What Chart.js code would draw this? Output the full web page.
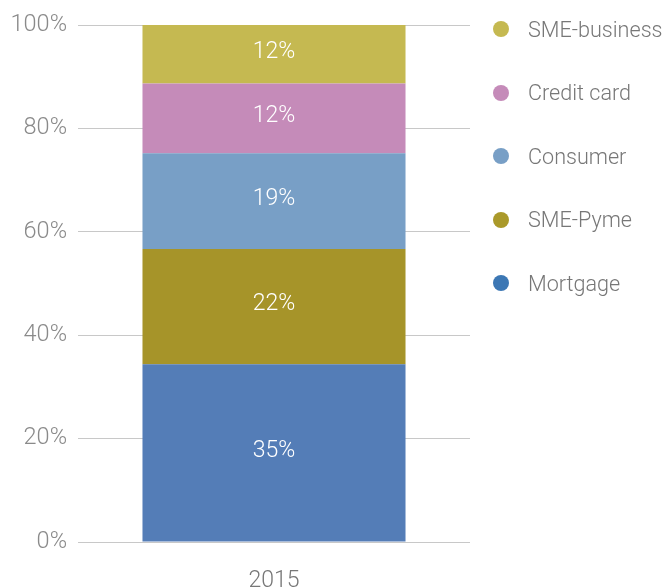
<!DOCTYPE html>
<html>
<head>
<meta charset="utf-8">
<script src="https://cdn.jsdelivr.net/npm/chart.js@4"></script>
<style>
  body { margin: 0; background: #fff; }
  #wrap { position: relative; width: 664px; height: 587px; }
  #legend { position: absolute; left: 493px; top: 0; font-family: Roboto, "Open Sans", sans-serif; font-weight: 300; font-size: 21.6px; color: #777; }
  .item { position: absolute; left: 0; height: 20px; display: flex; align-items: center; white-space: nowrap; }
  .dot { width: 16px; height: 16px; border-radius: 50%; margin-right: 19px; }
</style>
</head>
<body>
<div id="wrap">
  <canvas id="chart"></canvas>
  <div id="legend"></div>
</div>
<script>
// Loan portfolio mix, 2015 (bottom to top of the stack)
const years = ["2015"];
const seriesNames = ["Mortgage", "SME-Pyme", "Consumer", "Credit card", "SME-business"];
const mortgage = [34.4];
const smePyme = [22.3];
const consumer = [18.5];
const creditCard = [13.5];
const smeBusiness = [11.3];
const shareLabels = [["35%"], ["22%"], ["19%"], ["12%"], ["12%"]];
const barColors = ["#547DB7", "#A69429", "#789FC6", "#C58BB9", "#C5B951"];
const dotColors = ["#3C77B4", "#AA992A", "#789FC6", "#C58BB9", "#C5B951"];
const yTicks = [0, 20, 40, 60, 80, 100];

const seriesValues = [mortgage, smePyme, consumer, creditCard, smeBusiness];
const font = "Roboto, 'Open Sans', sans-serif";

// white % labels in the middle of each segment
const segmentLabels = {
    id: "segmentLabels",
    afterDatasetsDraw(chart) {
        const ctx = chart.ctx;
        ctx.save();
        ctx.fillStyle = "#ffffff";
        ctx.font = "300 23px " + font;
        ctx.textAlign = "center";
        ctx.textBaseline = "middle";
        chart.data.datasets.forEach((ds, i) => {
            chart.getDatasetMeta(i).data.forEach((bar, j) => {
                const p = bar.getCenterPoint();
                ctx.fillText(shareLabels[i][j], p.x, p.y - 2);
            });
        });
        ctx.restore();
    }
};

new Chart(document.getElementById("chart"), {
    type: "bar",
    data: {
        labels: years,
        datasets: seriesNames.map((name, i) => ({
            label: name,
            data: seriesValues[i],
            backgroundColor: barColors[i],
            borderWidth: 0,
            categoryPercentage: 0.671,
            barPercentage: 1
        }))
    },
    options: {
        responsive: true,
        maintainAspectRatio: false,
        animation: false,
        layout: { padding: { top: 25, right: 194, bottom: 0, left: 0 } },
        plugins: {
            legend: { display: false },
            tooltip: { enabled: false }
        },
        scales: {
            x: {
                stacked: true,
                grid: { display: false },
                border: { display: false },
                ticks: { color: "#777", padding: 17, font: { family: font, size: 23, weight: 300 } },
                afterFit(scale) { scale.height = 45; }
            },
            y: {
                stacked: true,
                min: 0,
                max: 100,
                afterBuildTicks(scale) { scale.ticks = yTicks.map(v => ({ value: v })); },
                grid: { color: "#c8c8c8", lineWidth: 1, drawTicks: false },
                border: { display: false },
                ticks: {
                    color: "#8a8a8a",
                    padding: 11,
                    font: { family: font, size: 23.5, weight: 300 },
                    callback: v => v + "%"
                },
                afterFit(scale) { scale.width = 78; }
            }
        }
    },
    plugins: [segmentLabels]
});

// legend on the right, top item = top of the stack
const legend = document.getElementById("legend");
seriesNames.slice().reverse().forEach((name, k) => {
    const i = seriesNames.length - 1 - k;
    const item = document.createElement("div");
    item.className = "item";
    item.style.top = (19 + k * 63.6) + "px";
    item.innerHTML = '<span class="dot" style="background:' + dotColors[i] + '"></span><span>' + name + '</span>';
    legend.appendChild(item);
});
</script>
</body>
</html>
